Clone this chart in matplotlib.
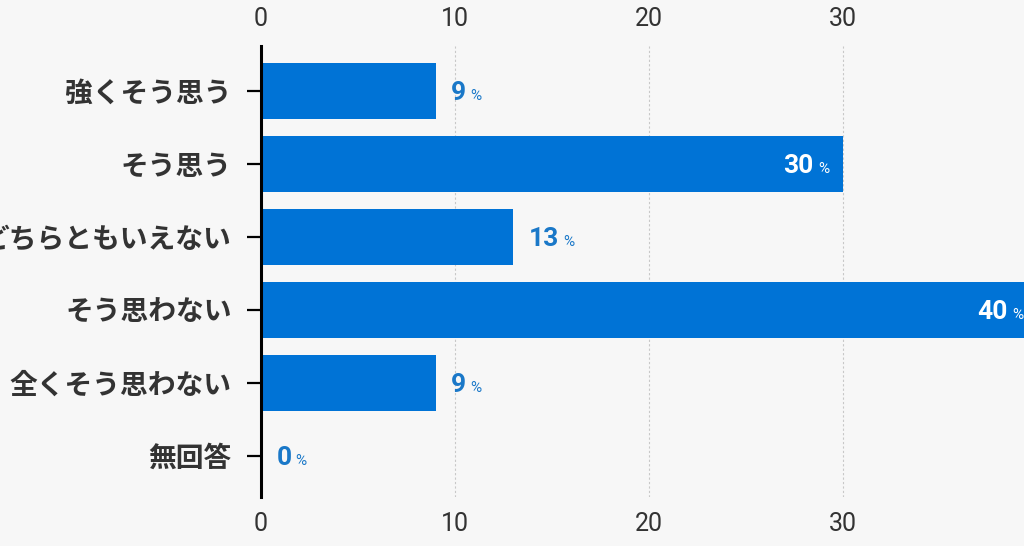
import matplotlib
matplotlib.use('Agg')
import matplotlib.pyplot as plt

# ============================================================
# DATA
# ============================================================
categories = ['強くそう思う', 'そう思う', 'どちらともいえない',
              'そう思わない', '全くそう思わない', '無回答']
values     = [9, 30, 13, 40, 9, 0]
xticks     = [0, 10, 20, 30]
INSIDE_MIN = 25          # values at/above this get the label inside the bar
# ============================================================

BG       = '#f7f7f7'
BAR      = '#0073d6'
LABEL    = '#1a78c8'
TEXT     = '#333333'
JP_FONT  = ['Noto Sans CJK JP', 'DejaVu Sans']
NUM_FONT = ['Roboto', 'DejaVu Sans']

fig = plt.figure(figsize=(10.24, 5.46), dpi=100, facecolor=BG)
# axes runs a little past the right edge so the 40 bar is cropped like the reference
ax = fig.add_axes([261 / 1024, 1 - 497 / 546, 776 / 1024, 451 / 546])
ax.set_facecolor(BG)

ypos = list(range(len(categories)))
ax.barh(ypos, values, height=0.77, color=BAR, zorder=3)

ax.set_xlim(0, 40)
ax.set_ylim(5 + 41 / 73, -45 / 73)

ax.set_xticks(xticks)
ax.set_xticklabels([str(t) for t in xticks], family=NUM_FONT, fontsize=18, color=TEXT)
ax.tick_params(axis='x', which='both', length=0, top=True, labeltop=True,
               bottom=True, labelbottom=True, pad=11)
for t in ax.xaxis.get_major_ticks():
    t.label2.set_fontfamily(NUM_FONT)
    t.label2.set_fontsize(18)
    t.label2.set_color(TEXT)

ax.set_yticks(ypos)
ax.set_yticklabels(categories, family=JP_FONT, fontsize=20, fontweight='bold', color=TEXT)
ax.tick_params(axis='y', length=10, width=1.6, color='black', pad=11)

for side in ['top', 'right', 'bottom']:
    ax.spines[side].set_visible(False)
ax.spines['left'].set_linewidth(2.2)
ax.spines['left'].set_color('black')
ax.spines['left'].set_zorder(4)

ax.grid(axis='x', color='#c8c8c8', linestyle=(0, (2, 2)), linewidth=0.8, zorder=1)
ax.grid(axis='y', visible=False)

# value labels: bold number + small "%"
for y, v in zip(ypos, values):
    base = y + 0.13
    if v >= INSIDE_MIN:
        pct = ax.annotate('%', xy=(v, base), xytext=(-10, 0), textcoords='offset points',
                          ha='right', va='baseline', fontsize=11, color='white',
                          family=NUM_FONT, zorder=5)
        ax.annotate(str(v), xy=(0, base), xycoords=(pct, 'data'), xytext=(-3, 0),
                    textcoords='offset points', ha='right', va='baseline',
                    fontsize=19, fontweight='bold', color='white', family=NUM_FONT, zorder=5)
    else:
        num = ax.annotate(str(v), xy=(v, base), xytext=(11, 0), textcoords='offset points',
                          ha='left', va='baseline', fontsize=19, fontweight='bold',
                          color=LABEL, family=NUM_FONT, zorder=5)
        ax.annotate('%', xy=(1, base), xycoords=(num, 'data'), xytext=(3, 0),
                    textcoords='offset points', ha='left', va='baseline',
                    fontsize=11, color=LABEL, family=NUM_FONT, zorder=5)

fig.savefig('out.png', dpi=100, facecolor=BG)
plt.close(fig)
